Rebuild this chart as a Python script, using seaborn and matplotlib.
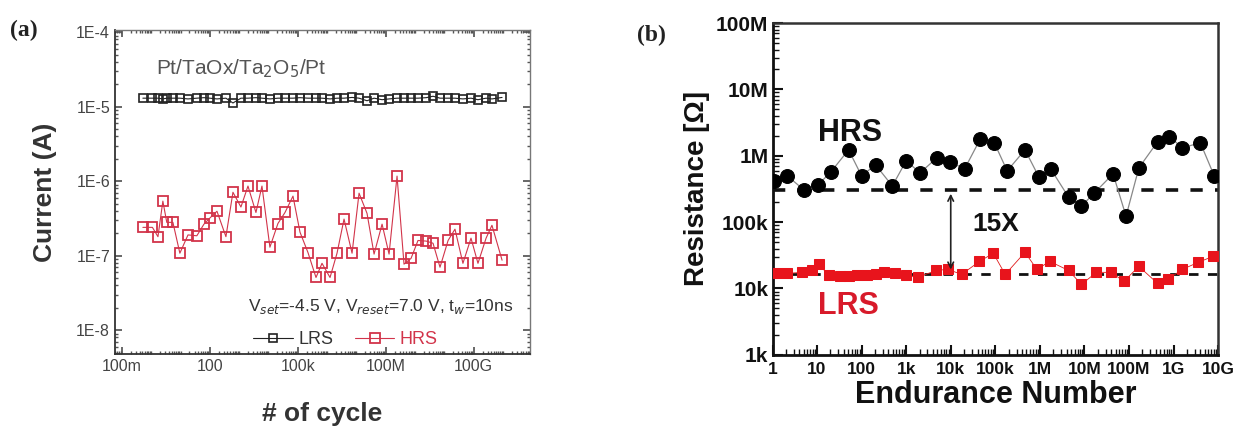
import numpy as np
import pandas as pd
import matplotlib
matplotlib.use('Agg')
import matplotlib.pyplot as plt
import seaborn as sns
from matplotlib.ticker import FixedLocator, FixedFormatter, LogLocator, NullFormatter

sns.set_theme(style='ticks')
plt.rcParams['font.family'] = ['Liberation Sans', 'DejaVu Sans']

# ---- panel (a): current vs cycle ----
cycle_a = [0.52, 1.1, 1.7, 2.5, 3.4, 5.5, 9.5, 18, 36, 63,
           100, 175, 354, 614, 1150, 2000, 3740, 6000, 1.12e4, 2.1e4,
           3.66e4, 6.86e4, 1.19e5, 2.23e5, 4.18e5, 6.7e5, 1.26e6, 2.18e6, 3.78e6, 7.1e6,
           1.23e7, 2.3e7, 4.0e7, 7.5e7, 1.3e8, 2.43e8, 4.2e8, 7.3e8, 1.26e9, 2.4e9,
           4.1e9, 7.1e9, 1.34e10, 2.3e10, 4.3e10, 8.1e10, 1.4e11, 2.65e11, 4.2e11, 9.3e11]
lrs_a = [1.30e-5, 1.30e-5, 1.30e-5, 1.27e-5, 1.30e-5, 1.30e-5, 1.30e-5, 1.27e-5, 1.30e-5, 1.32e-5,
         1.30e-5, 1.27e-5, 1.30e-5, 1.12e-5, 1.30e-5, 1.30e-5, 1.32e-5, 1.30e-5, 1.27e-5, 1.30e-5,
         1.30e-5, 1.30e-5, 1.32e-5, 1.30e-5, 1.30e-5, 1.30e-5, 1.27e-5, 1.30e-5, 1.30e-5, 1.33e-5,
         1.30e-5, 1.20e-5, 1.30e-5, 1.24e-5, 1.27e-5, 1.30e-5, 1.30e-5, 1.30e-5, 1.30e-5, 1.32e-5,
         1.38e-5, 1.30e-5, 1.30e-5, 1.30e-5, 1.27e-5, 1.30e-5, 1.24e-5, 1.30e-5, 1.27e-5, 1.33e-5]
hrs_a = [2.4e-7, 2.4e-7, 1.8e-7, 5.4e-7, 2.8e-7, 2.8e-7, 1.08e-7, 1.9e-7, 1.85e-7, 2.65e-7,
         3.2e-7, 3.95e-7, 1.8e-7, 7.1e-7, 4.5e-7, 8.6e-7, 3.8e-7, 8.6e-7, 1.3e-7, 2.7e-7,
         3.8e-7, 6.3e-7, 2.07e-7, 1.1e-7, 5.1e-8, 7.9e-8, 5.1e-8, 1.08e-7, 3.1e-7, 1.08e-7,
         6.9e-7, 3.7e-7, 1.05e-7, 2.65e-7, 1.05e-7, 1.17e-6, 7.7e-8, 9.2e-8, 1.6e-7, 1.57e-7,
         1.47e-7, 7.0e-8, 1.6e-7, 2.27e-7, 7.9e-8, 1.72e-7, 7.9e-8, 1.72e-7, 2.56e-7, 8.7e-8]
xticks_a = [0.1, 100, 1e5, 1e8, 1e11]
xlabels_a = ['100m', '100', '100k', '100M', '100G']
yticks_a = [1e-8, 1e-7, 1e-6, 1e-5, 1e-4]
ylabels_a = ['1E-8', '1E-7', '1E-6', '1E-5', '1E-4']

# ---- panel (b): resistance vs endurance ----
cycle_hrs_b = [1.1, 2.15, 5.1, 10.5, 20.5, 51, 100, 205, 489, 1000,
               2050, 4890, 9500, 2.05e4, 4.64e4, 9.5e4, 1.85e5, 4.64e5, 9.5e5, 1.75e6,
               4.4e6, 8.6e6, 1.67e7, 4.4e7, 8.6e7, 1.67e8, 4.4e8, 8.1e8, 1.58e9, 4.0e9, 8.2e9]
hrs_b = [4.18e5, 4.98e5, 3.05e5, 3.64e5, 5.73e5, 1.23e6, 4.98e5, 7.31e5, 3.51e5, 8.4e5,
         5.53e5, 9.33e5, 8.11e5, 6.35e5, 1.81e6, 1.57e6, 5.93e5, 1.23e6, 4.81e5, 6.35e5,
         2.39e5, 1.75e5, 2.75e5, 5.34e5, 1.23e5, 6.58e5, 1.63e6, 1.94e6, 1.32e6, 1.57e6, 4.98e5]
cycle_lrs_b = [1.23, 2.15, 4.6, 7.7, 11, 18.5, 32, 51, 77, 129,
               215, 324, 570, 1000, 1850, 4640, 8580, 1.76e4, 4.41e4, 9.03e4,
               1.67e5, 4.64e5, 8.58e5, 1.67e6, 4.4e6, 8.6e6, 1.85e7, 3.98e7, 7.7e7, 1.67e8,
               4.4e8, 7.4e8, 1.58e9, 3.6e9, 7.7e9]
lrs_b = [16.9e3, 16.9e3, 17.5e3, 18.7e3, 23.1e3, 15.7e3, 15.2e3, 15.2e3, 15.7e3, 15.7e3,
         16.3e3, 17.5e3, 16.9e3, 15.7e3, 14.7e3, 18.7e3, 19.4e3, 16.3e3, 25.6e3, 33.9e3,
         16.3e3, 35.1e3, 19.4e3, 25.6e3, 18.7e3, 11.5e3, 17.5e3, 17.5e3, 12.8e3, 21.5e3,
         11.9e3, 13.7e3, 19.4e3, 24.8e3, 30.5e3]
hrs_ref = 3.0e5
lrs_ref = 1.65e4
xticks_b = [1, 10, 100, 1e3, 1e4, 1e5, 1e6, 1e7, 1e8, 1e9, 1e10]
xlabels_b = ['1', '10', '100', '1k', '10k', '100k', '1M', '10M', '100M', '1G', '10G']
yticks_b = [1e3, 1e4, 1e5, 1e6, 1e7, 1e8]
ylabels_b = ['1k', '10k', '100k', '1M', '10M', '100M']

fig = plt.figure(figsize=(12.36, 4.28), dpi=100)
ax_a = fig.add_axes([0.093, 0.173, 0.336, 0.757])
ax_b = fig.add_axes([0.625, 0.171, 0.3605, 0.775])

RED_A = '#d2344a'
GREY_T = '#444444'

# panel a
ax_a.set_xscale('log')
ax_a.set_yscale('log')
sns.lineplot(x=cycle_a, y=lrs_a, ax=ax_a, color='#222222', marker='s', markersize=6,
             markerfacecolor='none', markeredgecolor='#222222', markeredgewidth=1.2,
             lw=0.8, label='LRS', legend=False)
sns.lineplot(x=cycle_a, y=hrs_a, ax=ax_a, color=RED_A, marker='s', markersize=7,
             markerfacecolor='none', markeredgecolor=RED_A, markeredgewidth=1.3,
             lw=0.8, label='HRS', legend=False)
ax_a.set_xlim(0.058, 8.5e12)
ax_a.set_ylim(4.8e-9, 1.07e-4)
ax_a.xaxis.set_major_locator(FixedLocator(xticks_a))
ax_a.xaxis.set_major_formatter(FixedFormatter(xlabels_a))
ax_a.xaxis.set_minor_locator(LogLocator(base=10, subs=np.arange(1, 10), numticks=200))
ax_a.xaxis.set_minor_formatter(NullFormatter())
ax_a.yaxis.set_major_locator(FixedLocator(yticks_a))
ax_a.yaxis.set_major_formatter(FixedFormatter(ylabels_a))
ax_a.yaxis.set_minor_locator(LogLocator(base=10, subs=np.arange(2, 10), numticks=200))
ax_a.yaxis.set_minor_formatter(NullFormatter())
ax_a.tick_params(which='both', direction='in', top=True, right=True, colors='#555555',
                 labelcolor=GREY_T, labelsize=11.5)
ax_a.tick_params(which='major', length=5)
ax_a.tick_params(which='minor', length=2.5)
for s in ['left', 'bottom']:
    ax_a.spines[s].set_color('#333333')
    ax_a.spines[s].set_linewidth(1.3)
for s in ['top', 'right']:
    ax_a.spines[s].set_color('#777777')
    ax_a.spines[s].set_linewidth(1.0)
ax_a.set_xlabel('# of cycle', fontsize=19, fontweight='bold', color='#333333', labelpad=20)
ax_a.set_ylabel('Current (A)', fontsize=19, fontweight='bold', color='#333333', labelpad=14)
ax_a.text(0.1, 0.88, 'Pt/TaOx/Ta$_2$O$_5$/Pt', transform=ax_a.transAxes, fontsize=15,
          color='#555555', va='center')
ax_a.text(0.32, 0.145, 'V$_{set}$=-4.5 V, V$_{reset}$=7.0 V, t$_w$=10ns', transform=ax_a.transAxes,
          fontsize=12.5, color='#333333', va='center')
ax_a.legend(loc='center', bbox_to_anchor=(0.555, 0.045), ncol=2, frameon=False, fontsize=13,
            handlelength=2.2, columnspacing=1.2, handletextpad=0.3, borderpad=0,
            labelcolor=['#333333', RED_A])
fig.text(0.008, 0.915, '(a)', fontsize=17, fontweight='bold', family='Liberation Serif',
         color='#222222')

# panel b
ax_b.set_xscale('log')
ax_b.set_yscale('log')
ax_b.axhline(hrs_ref, color='#111111', lw=2.6, ls=(0, (3.4, 3.4)), zorder=1)
ax_b.axhline(lrs_ref, color='#111111', lw=2.0, ls=(0, (3.4, 3.4)), zorder=1)
sns.lineplot(x=cycle_hrs_b, y=hrs_b, ax=ax_b, color='#888888', lw=0.9, marker='o',
             markersize=10, markerfacecolor='black', markeredgecolor='black', zorder=3)
sns.lineplot(x=cycle_lrs_b, y=lrs_b, ax=ax_b, color='#e01a1a', lw=0.6, marker='s',
             markersize=7.5, markerfacecolor='#e8141c', markeredgecolor='#e8141c', zorder=3)
ax_b.annotate('', xy=(1e4, 1.75e4), xytext=(1e4, 2.95e5),
              arrowprops=dict(arrowstyle='<->', lw=1.2, color='#222222', mutation_scale=10))
ax_b.text(3.0e4, 9.5e4, '15X', fontsize=19, fontweight='bold', color='#111111', va='center')
ax_b.text(10.5, 2.2e6, 'HRS', fontsize=22, fontweight='bold', color='#111111', va='center')
ax_b.text(10.5, 5.5e3, 'LRS', fontsize=22, fontweight='bold', color='#d81a2a', va='center')
ax_b.set_xlim(1, 1e10)
ax_b.set_ylim(1e3, 1e8)
ax_b.xaxis.set_major_locator(FixedLocator(xticks_b))
ax_b.xaxis.set_major_formatter(FixedFormatter(xlabels_b))
ax_b.xaxis.set_minor_locator(LogLocator(base=10, subs=np.arange(2, 10), numticks=200))
ax_b.xaxis.set_minor_formatter(NullFormatter())
ax_b.yaxis.set_major_locator(FixedLocator(yticks_b))
ax_b.yaxis.set_major_formatter(FixedFormatter(ylabels_b))
ax_b.yaxis.set_minor_locator(LogLocator(base=10, subs=np.arange(2, 10), numticks=200))
ax_b.yaxis.set_minor_formatter(NullFormatter())
ax_b.tick_params(which='both', direction='in', colors='#111111')
ax_b.tick_params(axis='x', labelsize=12.5, pad=5)
ax_b.tick_params(axis='y', labelsize=15, pad=3)
ax_b.tick_params(which='major', length=7, width=1.5)
ax_b.tick_params(which='minor', length=4, width=1.0)
for lab in ax_b.get_xticklabels() + ax_b.get_yticklabels():
    lab.set_fontweight('bold')
for s in ['left', 'bottom']:
    ax_b.spines[s].set_color('#111111')
    ax_b.spines[s].set_linewidth(2.0)
for s in ['top', 'right']:
    ax_b.spines[s].set_color('#333333')
    ax_b.spines[s].set_linewidth(1.8)
ax_b.set_xlabel('Endurance Number', fontsize=22, fontweight='bold', color='#111111', labelpad=2)
ax_b.set_ylabel('Resistance [\u03a9]', fontsize=20, fontweight='bold', color='#111111', labelpad=4)
fig.text(0.515, 0.905, '(b)', fontsize=17, fontweight='bold', family='Liberation Serif',
         color='#222222')

fig.savefig('out.png', dpi=100, facecolor='white')
